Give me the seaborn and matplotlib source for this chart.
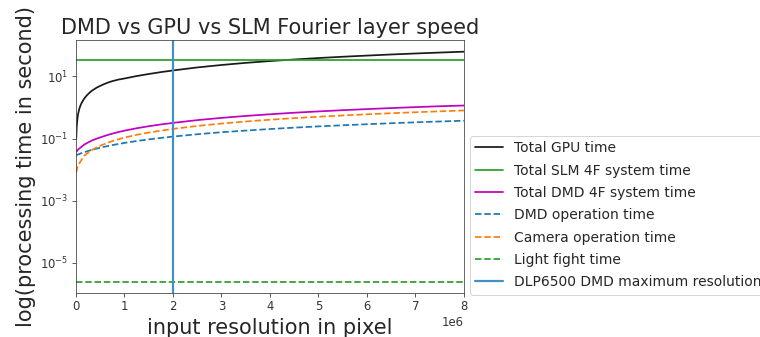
import numpy as np
import pandas as pd
import matplotlib
matplotlib.use('Agg')
import matplotlib.pyplot as plt
import seaborn as sns
from matplotlib.ticker import FixedLocator, NullLocator, LogFormatterSciNotation

# --- DATA ---
resolution = np.array([0.005, 0.015, 0.03, 0.044, 0.07, 0.1, 0.124, 0.17, 0.227, 0.28,
                       0.33, 0.43, 0.536, 0.64, 0.74, 0.87, 1.0, 1.25, 1.5, 1.75,
                       2.0, 2.5, 3.0, 3.5, 4.0, 4.5, 5.0, 5.5, 6.0, 6.5,
                       7.0, 7.5, 8.0]) * 1e6
gpu_time = [0.1, 0.25, 0.45, 0.63, 0.93, 1.25, 1.48, 1.95, 2.5, 3.0,
            3.5, 4.4, 5.3, 6.2, 7.0, 7.9, 8.6, 10.3, 12.0, 13.8,
            15.6, 19.5, 23.4, 27.4, 31.3, 35.2, 39.2, 43.1, 47.0, 51.0,
            54.9, 58.8, 62.7]
slm_time = [33.5] * len(resolution)
dmd_total_time = [0.037, 0.039, 0.042, 0.045, 0.048, 0.052, 0.056, 0.064, 0.072, 0.079,
                  0.087, 0.1, 0.114, 0.129, 0.143, 0.162, 0.18, 0.215, 0.25, 0.285,
                  0.32, 0.393, 0.464, 0.536, 0.607, 0.68, 0.75, 0.82, 0.89, 0.96,
                  1.03, 1.10, 1.16]
dmd_op_time = [0.029, 0.0297, 0.0303, 0.0309, 0.032, 0.0334, 0.0344, 0.0364, 0.0389, 0.0412,
               0.0434, 0.0477, 0.0523, 0.0568, 0.0612, 0.0668, 0.0725, 0.0834, 0.0943, 0.105,
               0.116, 0.138, 0.16, 0.181, 0.203, 0.225, 0.247, 0.268, 0.29, 0.312,
               0.334, 0.355, 0.377]
camera_time = [0.008, 0.0095, 0.012, 0.014, 0.016, 0.019, 0.022, 0.028, 0.033, 0.038,
               0.043, 0.052, 0.062, 0.072, 0.082, 0.095, 0.107, 0.132, 0.156, 0.18,
               0.205, 0.255, 0.305, 0.355, 0.405, 0.455, 0.505, 0.555, 0.605, 0.655,
               0.705, 0.755, 0.805]
light_time = [2.5e-6] * len(resolution)
dlp6500_res = 2e6

series = [
    ('Total GPU time', gpu_time, '#1a1a1a', '-'),
    ('Total SLM 4F system time', slm_time, 'tab:green', '-'),
    ('Total DMD 4F system time', dmd_total_time, 'm', '-'),
    ('DMD operation time', dmd_op_time, 'tab:blue', '--'),
    ('Camera operation time', camera_time, 'tab:orange', '--'),
    ('Light fight time', light_time, 'tab:green', '--'),
]

sns.set_style('ticks')
plt.rcParams['font.family'] = ['DejaVu Sans']
plt.rcParams['axes.edgecolor'] = '#444444'
plt.rcParams['xtick.major.size'] = 4
plt.rcParams['ytick.major.size'] = 4
plt.rcParams['lines.dashed_pattern'] = [3.7, 1.6]

fig = plt.figure(figsize=(760 / 72, 337 / 72), dpi=72)
ax = fig.add_axes([0.1, 0.1306, 0.5105, 0.7504])

for name, values, color, ls in series:
    df = pd.DataFrame({'x': resolution, 'y': values})
    sns.lineplot(data=df, x='x', y='y', ax=ax, color=color, linestyle=ls,
                 label=name, linewidth=1.75)

ax.axvline(dlp6500_res, color='#4190c8', linewidth=2.2, label='DLP6500 DMD maximum resolution')

ax.set_yscale('log')
ax.set_xlim(0, 8e6)
ax.set_ylim(1.07e-6, 148)
ax.yaxis.set_major_locator(FixedLocator([1e-5, 1e-3, 1e-1, 1e1]))
ax.yaxis.set_major_formatter(LogFormatterSciNotation())
ax.yaxis.set_minor_locator(NullLocator())
ax.tick_params(labelsize=11.6, colors='#333333')
ax.xaxis.get_offset_text().set_fontsize(11.6)

ax.set_title('DMD vs GPU vs SLM Fourier layer speed', fontsize=20.9)
ax.set_xlabel('input resolution in pixel', fontsize=20.9, labelpad=4.6)
ax.set_ylabel('log(processing time in second)', fontsize=20.9)

ax.legend(loc='lower left', bbox_to_anchor=(0.997, -0.035), fontsize=13.9,
          labelspacing=0.6, frameon=True)

fig.savefig('out.png', dpi=72)
